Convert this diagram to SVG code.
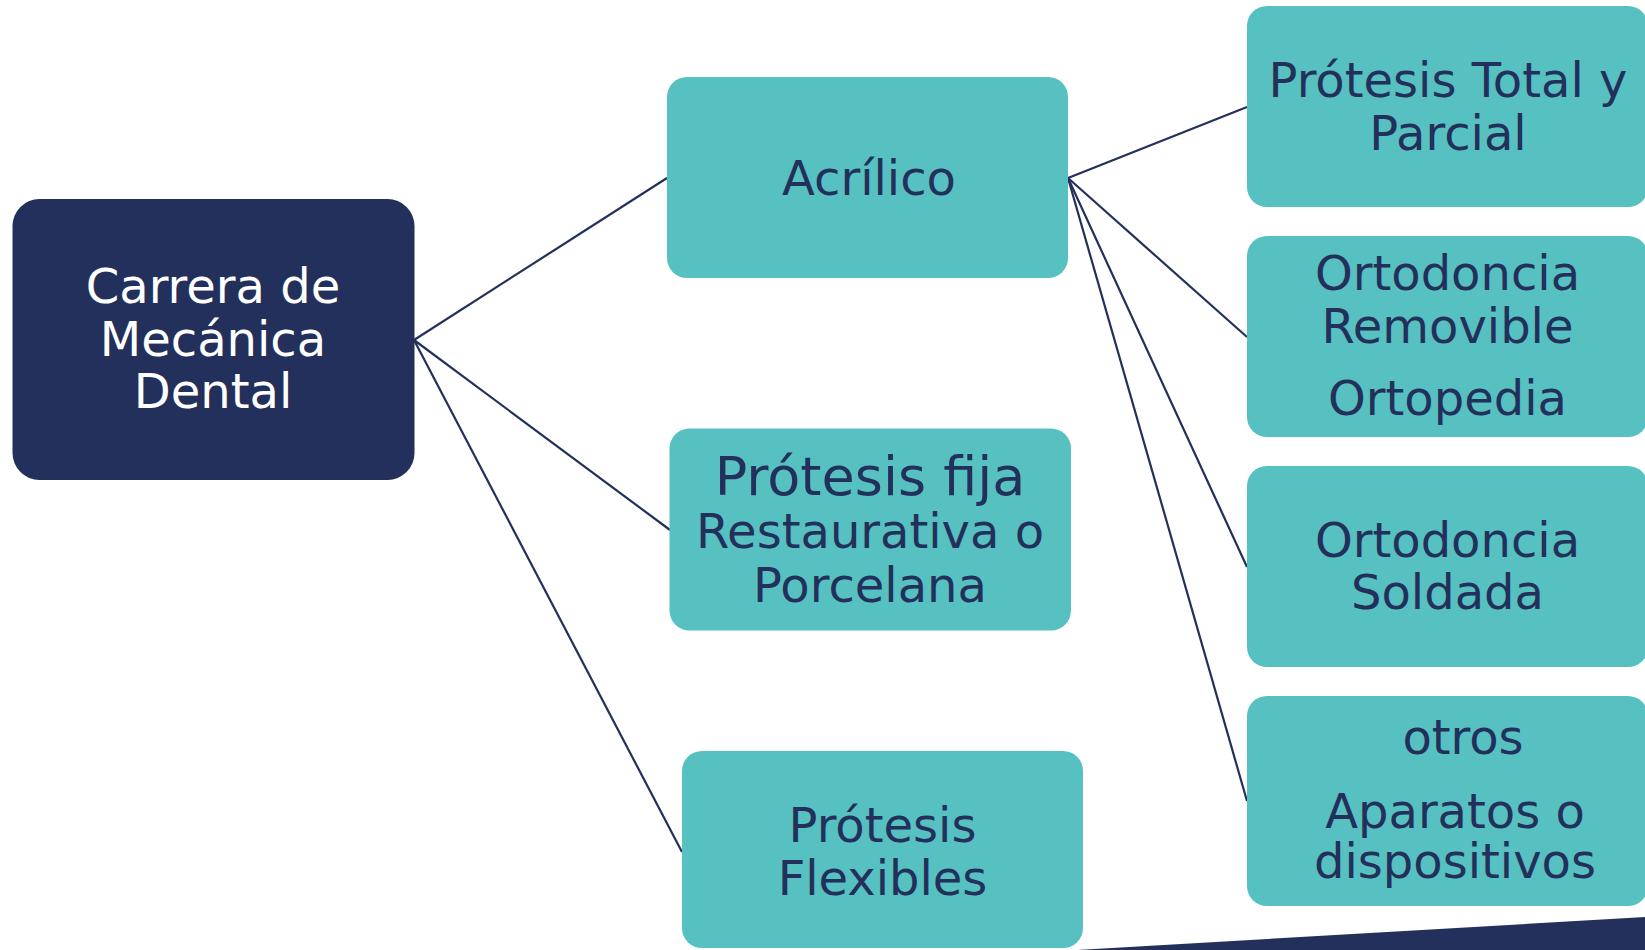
<svg xmlns="http://www.w3.org/2000/svg" width="1645" height="950" viewBox="0 0 1645 950">
<style>
.teal{fill:#57C0C0;}
.navy{fill:#22305B;}
.t{font-family:"DejaVu Sans","Liberation Sans",sans-serif;font-size:48px;text-anchor:middle;fill:#22305B;}
.w{fill:#FFFFFF;}
.c{stroke:#22305B;stroke-width:2.2;fill:none;}
</style>
<rect width="1645" height="950" fill="#FFFFFF"/>
<polygon class="navy" points="1060,951 1645,917 1645,950 1060,950"/>
<g id="connectors">
<line class="c" x1="414" y1="340" x2="667" y2="178"/>
<line class="c" x1="414" y1="340" x2="670" y2="530"/>
<line class="c" x1="414" y1="340" x2="682" y2="852"/>
<line class="c" x1="1068" y1="178" x2="1247" y2="107"/>
<line class="c" x1="1068" y1="178" x2="1247" y2="337"/>
<line class="c" x1="1068" y1="178" x2="1247" y2="567"/>
<line class="c" x1="1068" y1="178" x2="1247" y2="801"/>
</g>
<g id="root">
<rect class="navy" x="12.5" y="199" width="402" height="281" rx="27"/>
<text class="t w" x="213" y="303">Carrera de</text>
<text class="t w" x="213" y="356">Mecánica</text>
<text class="t w" x="213" y="408">Dental</text>
</g>
<g id="acrilico">
<rect class="teal" x="667" y="77" width="401" height="201" rx="20"/>
<text class="t" x="869" y="195">Acrílico</text>
</g>
<g id="protesis-fija">
<rect class="teal" x="669.5" y="428.5" width="401.5" height="202" rx="20"/>
<text class="t" x="870" y="495" style="font-size:54px">Prótesis fija</text>
<text class="t" x="870" y="548">Restaurativa o</text>
<text class="t" x="870" y="602">Porcelana</text>
</g>
<g id="protesis-flexibles">
<rect class="teal" x="682" y="751" width="401" height="197" rx="20"/>
<text class="t" x="882.5" y="842">Prótesis</text>
<text class="t" x="882.5" y="895">Flexibles</text>
</g>
<g id="total-parcial">
<rect class="teal" x="1247" y="6" width="401" height="201" rx="20"/>
<text class="t" x="1448" y="97">Prótesis Total y</text>
<text class="t" x="1448" y="150">Parcial</text>
</g>
<g id="ortodoncia-removible">
<rect class="teal" x="1247" y="236" width="401" height="201" rx="20"/>
<text class="t" x="1447.5" y="290">Ortodoncia</text>
<text class="t" x="1447.5" y="343">Removible</text>
<text class="t" x="1447.5" y="415">Ortopedia</text>
</g>
<g id="ortodoncia-soldada">
<rect class="teal" x="1247" y="466" width="401" height="201" rx="20"/>
<text class="t" x="1447.5" y="557">Ortodoncia</text>
<text class="t" x="1447.5" y="609">Soldada</text>
</g>
<g id="otros">
<rect class="teal" x="1247" y="696" width="401" height="210" rx="20"/>
<text class="t" x="1463" y="754">otros</text>
<text class="t" x="1455" y="828">Aparatos o</text>
<text class="t" x="1455" y="878">dispositivos</text>
</g>
</svg>
